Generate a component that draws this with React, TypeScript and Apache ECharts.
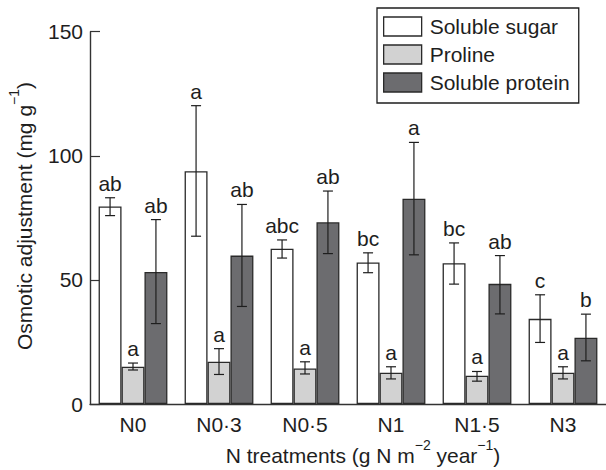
import React, { useEffect, useRef } from "react";
import * as echarts from "echarts";

// N addition levels and the three osmotic solutes
const treatments = ["N0", "N0·3", "N0·5", "N1", "N1·5", "N3"];
const seriesNames = ["Soluble sugar", "Proline", "Soluble protein"];

// means with lower / upper error-bar ends (mg g-1)
const sugarMean = [79.6, 93.8, 62.6, 57.0, 56.7, 34.3];
const sugarLow = [75.9, 67.6, 58.8, 52.9, 48.3, 24.8];
const sugarHigh = [83.1, 120.2, 66.1, 60.9, 64.9, 44.0];
const sugarLetters = ["ab", "a", "abc", "bc", "bc", "c"];

const prolineMean = [15.0, 17.0, 14.3, 12.6, 11.4, 12.6];
const prolineLow = [13.7, 11.9, 12.1, 10.1, 9.2, 10.1];
const prolineHigh = [16.5, 22.3, 17.0, 15.0, 13.1, 15.0];
const prolineLetters = ["a", "a", "a", "a", "a", "a"];

const proteinMean = [53.2, 59.8, 73.2, 82.7, 48.4, 26.7];
const proteinLow = [32.4, 39.3, 60.6, 60.1, 36.3, 17.4];
const proteinHigh = [74.3, 80.4, 85.8, 105.4, 59.8, 36.2];
const proteinLetters = ["ab", "ab", "ab", "a", "ab", "b"];

const yTicks = [0, 50, 100, 150];

const FONT = "'Liberation Sans', Arial, Helvetica, sans-serif";
const INK = "#1e1e1e";
const fills = ["#ffffff", "#d2d2d2", "#6c6c6f"];
const EDGE = "#2a2a2a";

const means = [sugarMean, prolineMean, proteinMean];
const lows = [sugarLow, prolineLow, proteinLow];
const highs = [sugarHigh, prolineHigh, proteinHigh];
const letters = [sugarLetters, prolineLetters, proteinLetters];

type ErrItem = { s: number; cat: number; low: number; high: number; letter: string };
const errItems: ErrItem[] = [];
for (let s = 0; s < 3; s++) {
  for (let c = 0; c < treatments.length; c++) {
    errItems.push({ s, cat: c, low: lows[s][c], high: highs[s][c], letter: letters[s][c] });
  }
}

// rich-text styles for axis titles with superscripts
const titleRich = {
  m: { fontSize: 21, lineHeight: 34, fontFamily: FONT, fill: INK },
  s: { fontSize: 14, lineHeight: 14, verticalAlign: "top", fontFamily: FONT, fill: INK },
};

export default function App() {
  const ref = useRef<HTMLDivElement>(null);

  useEffect(() => {
    document.body.style.margin = "0";
    if (!ref.current) return;
    const chart = echarts.init(ref.current, undefined, { renderer: "svg" });

    const barCategoryGap = 0.2;

    const option: any = {
      animation: false,
      backgroundColor: "#ffffff",
      textStyle: { fontFamily: FONT },
      grid: { left: 90, top: 31.7, width: 520, height: 372.3, containLabel: false },
      legend: {
        orient: "vertical",
        left: 377,
        top: 8,
        itemWidth: 38,
        itemHeight: 19,
        itemGap: 7,
        padding: [8, 9, 10, 6],
        borderColor: INK,
        borderWidth: 1.3,
        icon: "rect",
        selectedMode: false,
        textStyle: { fontSize: 21, color: INK, fontFamily: FONT, lineHeight: 19, padding: [0, 0, 0, 3] },
        data: seriesNames.map((name, i) => ({
          name,
          itemStyle: { color: fills[i], borderColor: EDGE, borderWidth: 1.3 },
        })),
      },
      xAxis: {
        type: "category",
        data: treatments,
        boundaryGap: true,
        axisLine: { lineStyle: { color: "#333", width: 1.4 } },
        axisTick: { show: true, inside: true, length: 10, alignWithLabel: true, lineStyle: { color: "#333", width: 1.2 } },
        axisLabel: { fontSize: 21, color: INK, margin: 10, fontFamily: FONT },
      },
      yAxis: {
        type: "value",
        min: yTicks[0],
        max: yTicks[yTicks.length - 1],
        interval: yTicks[1] - yTicks[0],
        splitLine: { show: false },
        axisLine: { show: true, lineStyle: { color: "#333", width: 1.4 } },
        axisTick: { show: true, inside: true, length: 10, lineStyle: { color: "#333", width: 1.2 } },
        axisLabel: { fontSize: 21, color: INK, margin: 7, fontFamily: FONT },
      },
      series: [
        ...seriesNames.map((name, i) => ({
          name,
          type: "bar",
          data: means[i],
          barGap: "0%",
          barCategoryGap: `${barCategoryGap * 100}%`,
          itemStyle: { color: fills[i], borderColor: EDGE, borderWidth: 1.3 },
          z: 2,
        })),
        {
          type: "custom",
          name: "error",
          z: 5,
          clip: false,
          data: errItems.map((e) => [e.cat, e.low, e.high]),
          encode: { x: 0, y: [1, 2] },
          renderItem: (params: any, api: any) => {
            const e = errItems[params.dataIndex];
            const band = api.size([1, 0])[0];
            const barW = (band * (1 - barCategoryGap)) / 3;
            const cx = api.coord([e.cat, 0])[0] + (e.s - 1) * barW;
            const yHi = api.coord([e.cat, e.high])[1];
            const yLo = api.coord([e.cat, e.low])[1];
            const hw = 5;
            const line = { stroke: INK, lineWidth: 1.2 };
            return {
              type: "group",
              children: [
                { type: "line", shape: { x1: cx, y1: yHi, x2: cx, y2: yLo }, style: line },
                { type: "line", shape: { x1: cx - hw, y1: yHi, x2: cx + hw, y2: yHi }, style: line },
                { type: "line", shape: { x1: cx - hw, y1: yLo, x2: cx + hw, y2: yLo }, style: line },
                {
                  type: "text",
                  style: {
                    text: e.letter,
                    x: cx,
                    y: yHi - 4,
                    align: "center",
                    verticalAlign: "bottom",
                    fontSize: 21,
                    fontFamily: FONT,
                    fill: INK,
                  },
                },
              ],
            };
          },
        },
      ],
      graphic: [
        {
          type: "text",
          x: 24,
          y: 216,
          rotation: Math.PI / 2,
          style: {
            text: "{m|Osmotic adjustment (mg g}{s|−1}{m|)}",
            align: "center",
            verticalAlign: "middle",
            rich: titleRich,
          },
        },
        {
          type: "text",
          x: 363,
          y: 455,
          style: {
            text: "{m|N treatments (g N m}{s|−2}{m| year}{s|−1}{m|)}",
            align: "center",
            verticalAlign: "middle",
            rich: titleRich,
          },
        },
      ],
    };

    chart.setOption(option);
    return () => chart.dispose();
  }, []);

  return <div ref={ref} style={{ width: 606, height: 470 }} />;
}
